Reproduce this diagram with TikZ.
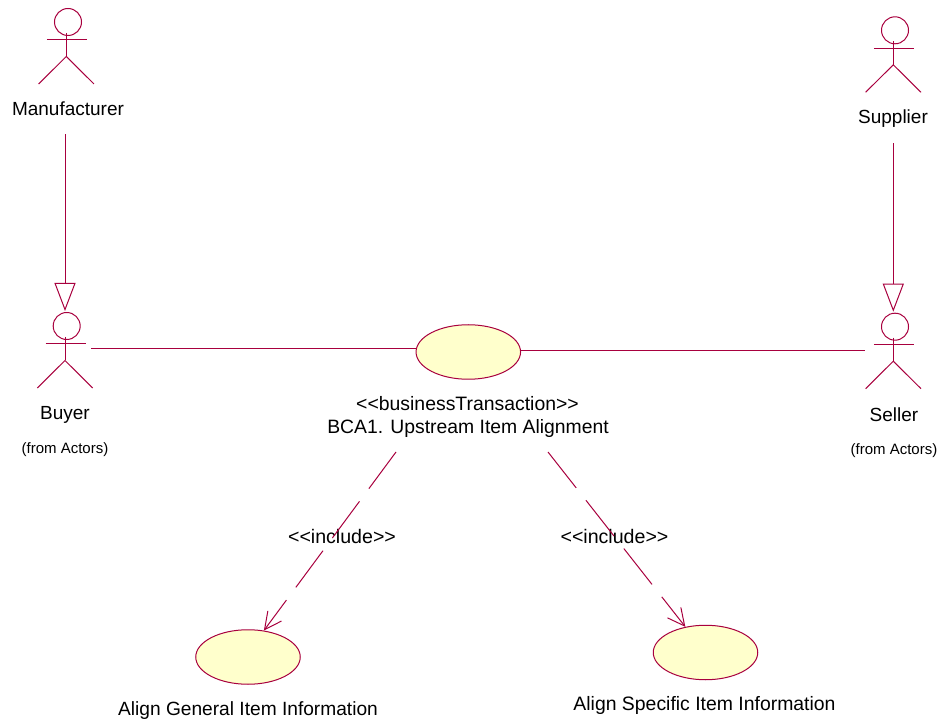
\documentclass[tikz,border=0pt]{standalone}
\usepackage{fontspec}
\setmainfont{Liberation Sans}
\usetikzlibrary{arrows.meta,shapes.geometric}
\definecolor{rosered}{RGB}{168,0,62}
\definecolor{roseyellow}{RGB}{255,255,204}
\newcommand{\stickman}[1]{
            \draw[umlline] (#1.center) ++(-1.7,11) -- ++(0,23.5);
            \draw[umlline] (#1.center) ++(-21.2,18) -- ++(40,0);
            \draw[umlline] (#1.center) ++(-29.4,62) -- ++(27.7,-27.5) -- ++(27.7,27.5);
            \coordinate (#1top) at ([xshift=-1.7pt,yshift=1pt]#1.north);
}
\begin{document}
\begin{tikzpicture}[x=1pt, y=-1pt,
        umlline/.style={color=rosered, line width=1pt},
        genline/.style={umlline, -{Triangle[open, length=28pt, width=21pt]}},
        incline/.style={umlline, dash pattern=on 45.6pt off 15.8pt, -{Straight Barb[length=17pt, width=17pt]}},
        head/.style={circle, draw=rosered, line width=1pt, minimum size=27pt, inner sep=0pt},
        usecase/.style={ellipse, draw=rosered, fill=roseyellow, line width=1pt, minimum width=104.5pt, minimum height=54.5pt, inner sep=0pt},
        bigtext/.style={anchor=base, inner sep=0pt, font=\fontsize{#1}{23}\selectfont},
        bigtext/.default=19,
        smalltext/.style={anchor=base, inner sep=0pt, font=\fontsize{15}{18}\selectfont}]
            \useasboundingbox (0,0) rectangle (938,719);
            \node[head] (manufacturer) at (68,22) {};
            \node[head] (buyer) at (66.7,326) {};
            \node[head] (supplier) at (895,30.3) {};
            \node[head] (seller) at (895,326.7) {};
            \stickman{manufacturer}
            \stickman{buyer}
            \stickman{supplier}
            \stickman{seller}
            \node[bigtext] (manufacturerlabel) at (68,116) {Manufacturer};
            \node[bigtext] (buyerlabel) at (65,420) {Buyer};
            \node[smalltext] (buyerfrom) at (65,453.3) {(from Actors)};
            \node[bigtext] (supplierlabel) at (893,124) {Supplier};
            \node[bigtext] (sellerlabel) at (894,421.7) {Seller};
            \node[smalltext] (sellerfrom) at (894,454.3) {(from Actors)};
            \node[usecase] (transaction) at (468.3,352) {};
            \node[usecase] (general) at (248,657) {};
            \node[usecase] (specific) at (705.5,652.5) {};
            \node[bigtext=19.4] (stereotype) at (467.5,410.7) {<{}<businessTransaction>{}>};
            \node[bigtext=19.35] (transactionlabel) at (468,434) {BCA1. Upstream Item Alignment};
            \node[bigtext=19.15] (generallabel) at (248,715) {Align General Item Information};
            \node[bigtext=19.4] (specificlabel) at (704.5,710.7) {Align Specific Item Information};
            \node[bigtext=19.6] (includeleft) at (342,543.3) {<{}<include>{}>};
            \node[bigtext=19.6] (includeright) at (614.5,543.3) {<{}<include>{}>};
            \coordinate (buyerhand) at (91,349);
            \coordinate (sellerhand) at (865,350.5);
            \coordinate (leftstart) at (396,452);
            \coordinate (rightstart) at (548,452);
            \draw[genline, shorten <=18pt] (buyertop |- manufacturerlabel.south) -- (buyertop);
            \draw[genline, shorten <=15pt] (sellertop |- supplierlabel.south) -- (sellertop);
            \draw[umlline] (buyerhand) -- (transaction.west |- buyerhand);
            \draw[umlline] (transaction.east |- sellerhand) -- (sellerhand);
            \draw[incline] (leftstart) -- (general.59);
            \draw[incline] (rightstart) -- (specific);
        \end{tikzpicture}
\end{document}
